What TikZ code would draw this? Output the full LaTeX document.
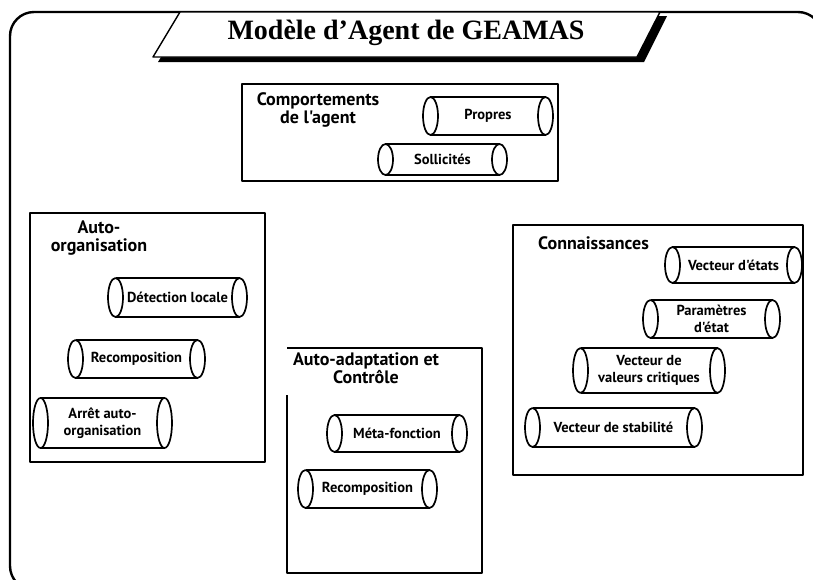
\documentclass[tikz,border=0pt]{standalone}
\usepackage{fontspec}
\setmainfont{Liberation Serif}
\newfontfamily\lblfont{PT Sans}
\usetikzlibrary{calc}

% horizontal tube: name, left x, top y, right x, bottom y, label
\def\trx{7.5}
\newcommand\tubebox[6]{%
  \pgfmathsetmacro\tcy{(#3+#5)/2}%
  \pgfmathsetmacro\try{(#5-#3)/2}%
  \fill[white] (#2+\trx,#3) rectangle (#4-\trx,#5);
  \draw[tubeline] (#2+\trx,#3) -- (#4-\trx,#3);
  \draw[tubeline] (#2+\trx,#5) -- (#4-\trx,#5);
  \draw[tubeline,fill=white] (#4-\trx,\tcy) ellipse [x radius=\trx pt, y radius=\try pt];
  \draw[tubeline,fill=white] (#2+\trx,\tcy) ellipse [x radius=\trx pt, y radius=\try pt];
  \node[tubelbl] (#1) at ({(#2+#4)/2},\tcy) {#6};
}

\begin{document}
\begin{tikzpicture}[x=1pt,y=-1pt,line join=round,
  tubeline/.style={line width=1.7pt},
  grpline/.style={line width=1.6pt},
  grptitle/.style={font=\lblfont\bfseries\fontsize{18}{18}\selectfont,align=center,inner sep=0pt},
  tubelbl/.style={font=\lblfont\bfseries\fontsize{14.5}{17}\selectfont,align=center,inner sep=0pt},
  maintitle/.style={font=\bfseries\fontsize{28}{30}\selectfont,inner sep=0pt}]
\useasboundingbox (0,0) rectangle (813,579);
\clip (0,0) rectangle (813,579);

% outer frame
\draw[line width=2.4pt,rounded corners=24pt] (10,12) rectangle (822,590);

% title banner with its shadow
\fill[black] (186,16) -- (667,16) -- (644,62) -- (158,62) -- cycle;
\draw[line width=1.4pt,fill=white] (180,12) -- (660,12) -- (637,57) -- (153,57) -- cycle;
\node[maintitle] (title) at (406,33) {Modèle d'Agent de GEAMAS};

% Comportements de l'agent
\draw[grpline] (242,84) rectangle (558,181);
\node[grptitle] (comp) at (318,110) {Comportements\\de l'agent};
\tubebox{propres}{423}{97}{553}{135}{Propres}
\tubebox{sollicites}{378}{144}{507}{175}{Sollicités}

% Auto-organisation
\draw[grpline] (30,213) rectangle (265,462);
\node[grptitle] (autoorg) at (99,238) {Auto-\\organisation};
\tubebox{detection}{108}{278}{247}{317}{Détection locale}
\tubebox{recompA}{68}{340}{205}{378}{Recomposition}
\tubebox{arret}{33}{398}{172}{448}{Arrêt auto-\\organisation}

% Auto-adaptation et Contrôle
\draw[grpline] (287,395) -- (287,573) -- (482,573) -- (482,348) -- (287,348);
\node[grptitle] (autoadapt) at (366,368) {Auto-adaptation et\\Contrôle};
\tubebox{meta}{327}{415}{467}{452}{Méta-fonction}
\tubebox{recompB}{298}{470}{437}{508}{Recomposition}

% Connaissances
\draw[grpline] (513,225) rectangle (803,475);
\node[grptitle,anchor=west] (conn) at (538,243) {Connaissances};
\tubebox{etats}{665}{247}{802}{283}{Vecteur d'états}
\tubebox{params}{643}{300}{780}{338}{Paramètres\\d'état}
\tubebox{critiques}{573}{348}{725}{393}{Vecteur de\\valeurs critiques}
\tubebox{stabilite}{525}{408}{702}{447}{Vecteur de stabilité}
\end{tikzpicture}
\end{document}
